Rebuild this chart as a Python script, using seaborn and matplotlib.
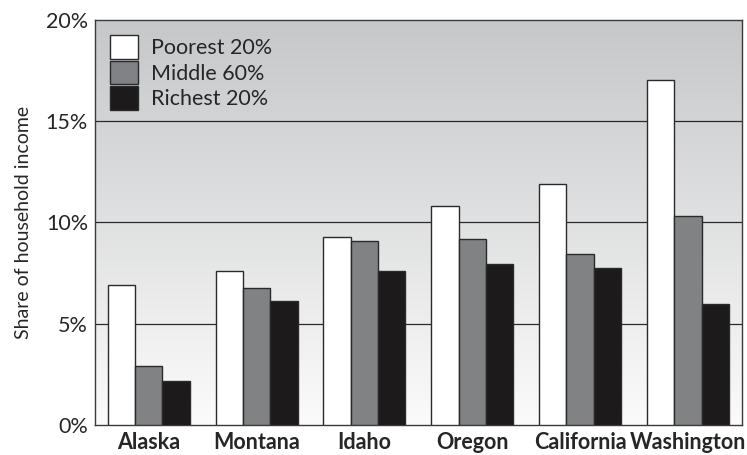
import numpy as np
import pandas as pd
import matplotlib.pyplot as plt
import seaborn as sns
from matplotlib.patches import Patch

# Data
states = ['Alaska', 'Montana', 'Idaho', 'Oregon', 'California', 'Washington']
groups = ['Poorest 20%', 'Middle 60%', 'Richest 20%']
poorest = [6.9, 7.6, 9.3, 10.8, 11.9, 17.05]
middle = [2.9, 6.75, 9.1, 9.2, 8.45, 10.3]
richest = [2.15, 6.1, 7.6, 7.95, 7.75, 5.95]
colors = ['#ffffff', '#808285', '#1c1a1b']

df = pd.DataFrame({
    'State': states * 3,
    'Group': [groups[0]] * 6 + [groups[1]] * 6 + [groups[2]] * 6,
    'Share': poorest + middle + richest,
})

sns.set_style('white')
plt.rcParams['font.family'] = ['Lato', 'DejaVu Sans']

fig = plt.figure(figsize=(7.47, 4.55), dpi=100)
ax = fig.add_axes([0.127, 0.066, 0.866, 0.89])

# gradient background, light at the bottom and gray at the top
grad = np.linspace(0, 1, 256).reshape(-1, 1)
ax.imshow(grad, extent=[0, 1, 0, 1], transform=ax.transAxes, aspect='auto',
          cmap=sns.blend_palette(['#c6c7c9', '#fbfbfb'], as_cmap=True),
          origin='upper', zorder=0)

sns.barplot(data=df, x='State', y='Share', hue='Group', palette=colors,
            width=0.76, edgecolor='#2a2a2a', linewidth=1.0, ax=ax, zorder=3,
            legend=False)

ax.set_ylim(0, 20)
ax.set_xlim(-0.5, 5.5)
ax.set_yticks([0, 5, 10, 15, 20])
ax.set_yticklabels(['0%', '5%', '10%', '15%', '20%'], fontsize=15.5)
for y in [5, 10, 15]:
    ax.axhline(y, color='#2a2a2a', linewidth=0.9, zorder=1)
ax.tick_params(axis='y', length=0, pad=5)
ax.tick_params(axis='x', length=0, pad=5)
ax.set_xticklabels(states, fontsize=15.5, fontweight='bold')
ax.set_xlabel('')
ax.set_ylabel('Share of household income', fontsize=14, labelpad=10)
for s in ax.spines.values():
    s.set_color('#3a3a3a')
    s.set_linewidth(1.0)

handles = [Patch(facecolor=c, edgecolor='#2a2a2a', label=g) for c, g in zip(colors, groups)]
ax.legend(handles=handles, loc='upper left', frameon=False, fontsize=15.5,
          handlelength=1.3, handleheight=1.3, handletextpad=0.6,
          labelspacing=0.1, borderaxespad=0.3, bbox_to_anchor=(0.0, 1.0))

fig.savefig('out.png', dpi=100)
